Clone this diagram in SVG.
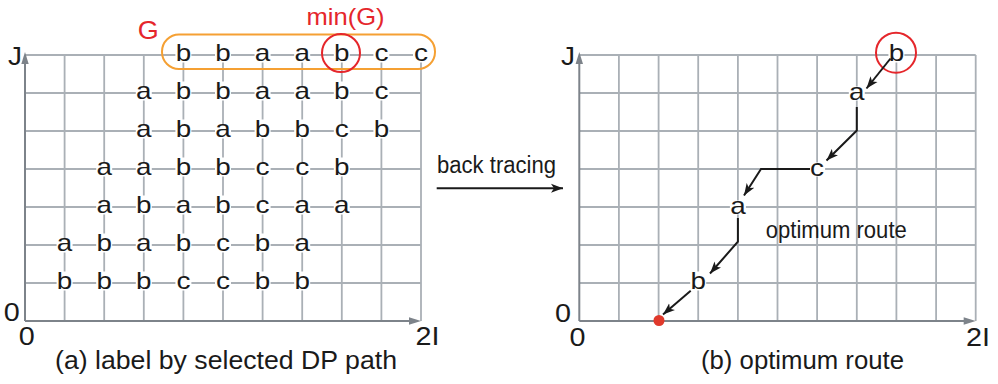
<svg xmlns="http://www.w3.org/2000/svg" xmlns:xlink="http://www.w3.org/1999/xlink" width="998" height="384" viewBox="0 0 998 384">
<style>
.g{stroke:#aab0b6;stroke-width:1.8;fill:none}
.ax{stroke:#7d838a;stroke-width:2;fill:none}
.axh{fill:#7d838a}
.t{font-family:"Liberation Sans",Arial,sans-serif;font-size:24px;fill:#1a1a1a;text-anchor:middle}
.big{font-size:25px}
.red{fill:#e5262b}
.lt{font-family:"Liberation Sans",Arial,sans-serif;font-size:23px;fill:#1a1a1a;text-anchor:middle}
.cap{font-size:25px}
.p{stroke:#1a1a1a;stroke-width:2;fill:none;marker-end:url(#ah)}
</style>
<defs>
<rect id="rb" x="-8" y="-11.5" width="16" height="19" fill="#fff"/>
<rect id="ra" x="-8" y="-6.5" width="16" height="14" fill="#fff"/>
<marker id="ah" markerWidth="14" markerHeight="10" refX="12" refY="5" orient="auto" markerUnits="userSpaceOnUse"><path d="M0,0.5 L12,5 L0,9.5 L3,5 z" fill="#1a1a1a"/></marker>
</defs>
<rect width="998" height="384" fill="#fff"/>

<g id="grid-a">
<path class="g" d="M64.6,55V321M104.2,55V321M143.8,55V321M183.4,55V321M223,55V321M262.6,55V321M302.2,55V321M341.8,55V321M381.4,55V321M421,55V321M25,55H421M25,93H421M25,131H421M25,169H421M25,207H421M25,245H421M25,283H421"/>
<path class="ax" d="M25,321V62M25,321H410"/>
<polygon class="axh" points="25,52 21.3,64 28.7,64"/>
<polygon class="axh" points="421,321 409,317.3 409,324.7"/>
<text class="t big" x="15" y="64.5" textLength="14" lengthAdjust="spacingAndGlyphs">J</text>
<text class="t big" x="11.7" y="320.7" textLength="16" lengthAdjust="spacingAndGlyphs">0</text>
<text class="t big" x="26.7" y="345" textLength="16" lengthAdjust="spacingAndGlyphs">0</text>
<text class="t big" x="427.5" y="345" textLength="24" lengthAdjust="spacingAndGlyphs">2I</text>
</g>

<g id="labels-a">
<use xlink:href="#rb" x="183.4" y="55"/><text class="t" x="183.4" y="61" textLength="15.5" lengthAdjust="spacingAndGlyphs">b</text>
<use xlink:href="#rb" x="223" y="55"/><text class="t" x="223" y="61" textLength="15.5" lengthAdjust="spacingAndGlyphs">b</text>
<use xlink:href="#ra" x="262.6" y="55"/><text class="t" x="262.6" y="61" textLength="15.5" lengthAdjust="spacingAndGlyphs">a</text>
<use xlink:href="#ra" x="302.2" y="55"/><text class="t" x="302.2" y="61" textLength="15.5" lengthAdjust="spacingAndGlyphs">a</text>
<use xlink:href="#rb" x="341.8" y="55"/><text class="t" x="341.8" y="61" textLength="15.5" lengthAdjust="spacingAndGlyphs">b</text>
<use xlink:href="#ra" x="381.4" y="55"/><text class="t" x="381.4" y="61" textLength="14" lengthAdjust="spacingAndGlyphs">c</text>
<use xlink:href="#ra" x="421" y="55"/><text class="t" x="421" y="61" textLength="14" lengthAdjust="spacingAndGlyphs">c</text>

<use xlink:href="#ra" x="143.8" y="93"/><text class="t" x="143.8" y="99" textLength="15.5" lengthAdjust="spacingAndGlyphs">a</text>
<use xlink:href="#rb" x="183.4" y="93"/><text class="t" x="183.4" y="99" textLength="15.5" lengthAdjust="spacingAndGlyphs">b</text>
<use xlink:href="#rb" x="223" y="93"/><text class="t" x="223" y="99" textLength="15.5" lengthAdjust="spacingAndGlyphs">b</text>
<use xlink:href="#ra" x="262.6" y="93"/><text class="t" x="262.6" y="99" textLength="15.5" lengthAdjust="spacingAndGlyphs">a</text>
<use xlink:href="#ra" x="302.2" y="93"/><text class="t" x="302.2" y="99" textLength="15.5" lengthAdjust="spacingAndGlyphs">a</text>
<use xlink:href="#rb" x="341.8" y="93"/><text class="t" x="341.8" y="99" textLength="15.5" lengthAdjust="spacingAndGlyphs">b</text>
<use xlink:href="#ra" x="381.4" y="93"/><text class="t" x="381.4" y="99" textLength="14" lengthAdjust="spacingAndGlyphs">c</text>

<use xlink:href="#ra" x="143.8" y="131"/><text class="t" x="143.8" y="137" textLength="15.5" lengthAdjust="spacingAndGlyphs">a</text>
<use xlink:href="#rb" x="183.4" y="131"/><text class="t" x="183.4" y="137" textLength="15.5" lengthAdjust="spacingAndGlyphs">b</text>
<use xlink:href="#ra" x="223" y="131"/><text class="t" x="223" y="137" textLength="15.5" lengthAdjust="spacingAndGlyphs">a</text>
<use xlink:href="#rb" x="262.6" y="131"/><text class="t" x="262.6" y="137" textLength="15.5" lengthAdjust="spacingAndGlyphs">b</text>
<use xlink:href="#rb" x="302.2" y="131"/><text class="t" x="302.2" y="137" textLength="15.5" lengthAdjust="spacingAndGlyphs">b</text>
<use xlink:href="#ra" x="341.8" y="131"/><text class="t" x="341.8" y="137" textLength="14" lengthAdjust="spacingAndGlyphs">c</text>
<use xlink:href="#rb" x="381.4" y="131"/><text class="t" x="381.4" y="137" textLength="15.5" lengthAdjust="spacingAndGlyphs">b</text>

<use xlink:href="#ra" x="104.2" y="169"/><text class="t" x="104.2" y="175" textLength="15.5" lengthAdjust="spacingAndGlyphs">a</text>
<use xlink:href="#ra" x="143.8" y="169"/><text class="t" x="143.8" y="175" textLength="15.5" lengthAdjust="spacingAndGlyphs">a</text>
<use xlink:href="#rb" x="183.4" y="169"/><text class="t" x="183.4" y="175" textLength="15.5" lengthAdjust="spacingAndGlyphs">b</text>
<use xlink:href="#rb" x="223" y="169"/><text class="t" x="223" y="175" textLength="15.5" lengthAdjust="spacingAndGlyphs">b</text>
<use xlink:href="#ra" x="262.6" y="169"/><text class="t" x="262.6" y="175" textLength="14" lengthAdjust="spacingAndGlyphs">c</text>
<use xlink:href="#ra" x="302.2" y="169"/><text class="t" x="302.2" y="175" textLength="14" lengthAdjust="spacingAndGlyphs">c</text>
<use xlink:href="#rb" x="341.8" y="169"/><text class="t" x="341.8" y="175" textLength="15.5" lengthAdjust="spacingAndGlyphs">b</text>

<use xlink:href="#ra" x="104.2" y="207"/><text class="t" x="104.2" y="213" textLength="15.5" lengthAdjust="spacingAndGlyphs">a</text>
<use xlink:href="#rb" x="143.8" y="207"/><text class="t" x="143.8" y="213" textLength="15.5" lengthAdjust="spacingAndGlyphs">b</text>
<use xlink:href="#ra" x="183.4" y="207"/><text class="t" x="183.4" y="213" textLength="15.5" lengthAdjust="spacingAndGlyphs">a</text>
<use xlink:href="#rb" x="223" y="207"/><text class="t" x="223" y="213" textLength="15.5" lengthAdjust="spacingAndGlyphs">b</text>
<use xlink:href="#ra" x="262.6" y="207"/><text class="t" x="262.6" y="213" textLength="14" lengthAdjust="spacingAndGlyphs">c</text>
<use xlink:href="#ra" x="302.2" y="207"/><text class="t" x="302.2" y="213" textLength="15.5" lengthAdjust="spacingAndGlyphs">a</text>
<use xlink:href="#ra" x="341.8" y="207"/><text class="t" x="341.8" y="213" textLength="15.5" lengthAdjust="spacingAndGlyphs">a</text>

<use xlink:href="#ra" x="64.6" y="245"/><text class="t" x="64.6" y="251" textLength="15.5" lengthAdjust="spacingAndGlyphs">a</text>
<use xlink:href="#rb" x="104.2" y="245"/><text class="t" x="104.2" y="251" textLength="15.5" lengthAdjust="spacingAndGlyphs">b</text>
<use xlink:href="#ra" x="143.8" y="245"/><text class="t" x="143.8" y="251" textLength="15.5" lengthAdjust="spacingAndGlyphs">a</text>
<use xlink:href="#rb" x="183.4" y="245"/><text class="t" x="183.4" y="251" textLength="15.5" lengthAdjust="spacingAndGlyphs">b</text>
<use xlink:href="#ra" x="223" y="245"/><text class="t" x="223" y="251" textLength="14" lengthAdjust="spacingAndGlyphs">c</text>
<use xlink:href="#rb" x="262.6" y="245"/><text class="t" x="262.6" y="251" textLength="15.5" lengthAdjust="spacingAndGlyphs">b</text>
<use xlink:href="#ra" x="302.2" y="245"/><text class="t" x="302.2" y="251" textLength="15.5" lengthAdjust="spacingAndGlyphs">a</text>

<use xlink:href="#rb" x="64.6" y="283"/><text class="t" x="64.6" y="289" textLength="15.5" lengthAdjust="spacingAndGlyphs">b</text>
<use xlink:href="#rb" x="104.2" y="283"/><text class="t" x="104.2" y="289" textLength="15.5" lengthAdjust="spacingAndGlyphs">b</text>
<use xlink:href="#rb" x="143.8" y="283"/><text class="t" x="143.8" y="289" textLength="15.5" lengthAdjust="spacingAndGlyphs">b</text>
<use xlink:href="#ra" x="183.4" y="283"/><text class="t" x="183.4" y="289" textLength="14" lengthAdjust="spacingAndGlyphs">c</text>
<use xlink:href="#ra" x="223" y="283"/><text class="t" x="223" y="289" textLength="14" lengthAdjust="spacingAndGlyphs">c</text>
<use xlink:href="#rb" x="262.6" y="283"/><text class="t" x="262.6" y="289" textLength="15.5" lengthAdjust="spacingAndGlyphs">b</text>
<use xlink:href="#rb" x="302.2" y="283"/><text class="t" x="302.2" y="289" textLength="15.5" lengthAdjust="spacingAndGlyphs">b</text>
</g>

<g id="G-set">
<rect x="162" y="34.5" width="273" height="34.5" rx="17" fill="none" stroke="#f5a033" stroke-width="2"/>
<text class="t big red" x="148.3" y="38.5" textLength="21" lengthAdjust="spacingAndGlyphs">G</text>
</g>
<g id="min-G">
<circle cx="341" cy="53" r="19" fill="none" stroke="#e5262b" stroke-width="2"/>
<text class="t red" x="345.5" y="25" textLength="78" lengthAdjust="spacingAndGlyphs">min(G)</text>
</g>

<g id="grid-b">
<path class="g" d="M618.9,55V321M658.6,55V321M698.2,55V321M737.9,55V321M777.5,55V321M817.1,55V321M856.8,55V321M896.4,55V321M936.1,55V321M975.7,55V321M579.3,55H975.7M579.3,93H975.7M579.3,131H975.7M579.3,169H975.7M579.3,207H975.7M579.3,245H975.7M579.3,283H975.7"/>
<path class="ax" d="M579.3,321V62M579.3,321H964"/>
<polygon class="axh" points="579.3,52 575.6,64 583,64"/>
<polygon class="axh" points="975.7,321 963.7,317.3 963.7,324.7"/>
<text class="t big" x="568" y="64.5" textLength="14" lengthAdjust="spacingAndGlyphs">J</text>
<text class="t big" x="563" y="321.5" textLength="16" lengthAdjust="spacingAndGlyphs">0</text>
<text class="t big" x="577.5" y="346" textLength="16" lengthAdjust="spacingAndGlyphs">0</text>
<text class="t big" x="978" y="346" textLength="24" lengthAdjust="spacingAndGlyphs">2I</text>
</g>

<g id="node-b-top"><use xlink:href="#rb" x="896.4" y="55"/><text class="t" x="896.4" y="61" textLength="15.5" lengthAdjust="spacingAndGlyphs">b</text>
<circle cx="896" cy="52.7" r="20" fill="none" stroke="#e5262b" stroke-width="2"/></g>
<g id="node-a1"><use xlink:href="#ra" x="856.8" y="93"/><text class="t" x="856.8" y="99.5" textLength="15.5" lengthAdjust="spacingAndGlyphs">a</text></g>
<g id="node-c"><use xlink:href="#ra" x="817.1" y="169"/><text class="t" x="817.1" y="175.5" textLength="14" lengthAdjust="spacingAndGlyphs">c</text></g>
<g id="node-a2"><use xlink:href="#ra" x="737.9" y="207"/><text class="t" x="737.9" y="213.5" textLength="15.5" lengthAdjust="spacingAndGlyphs">a</text></g>
<g id="node-b-low"><use xlink:href="#rb" x="698.2" y="283"/><text class="t" x="698.2" y="289" textLength="15.5" lengthAdjust="spacingAndGlyphs">b</text></g>
<g id="node-start"><circle cx="659" cy="320.5" r="5.5" fill="#e0392b"/></g>

<g id="connectors">
<path class="p" d="M890.5,58.5L866.5,88.5"/>
<path class="p" d="M856.8,107V130.5L826.5,160.5"/>
<path class="p" d="M810,169H761L744,195.5"/>
<path class="p" d="M737.9,218V241.7L710,273.5"/>
<path class="p" d="M690.7,290.7L663,314.5"/>
<path class="p" d="M436.7,188.3H563"/>
</g>

<g id="texts">
<text class="lt" x="496.5" y="173.3" textLength="119" lengthAdjust="spacingAndGlyphs">back tracing</text>
<text class="lt" x="836.3" y="238.3" textLength="141" lengthAdjust="spacingAndGlyphs">optimum route</text>
<text class="lt cap" x="226" y="369" textLength="342" lengthAdjust="spacingAndGlyphs">(a) label by selected DP path</text>
<text class="lt cap" x="802.5" y="369" textLength="203" lengthAdjust="spacingAndGlyphs">(b) optimum route</text>
</g>
</svg>
